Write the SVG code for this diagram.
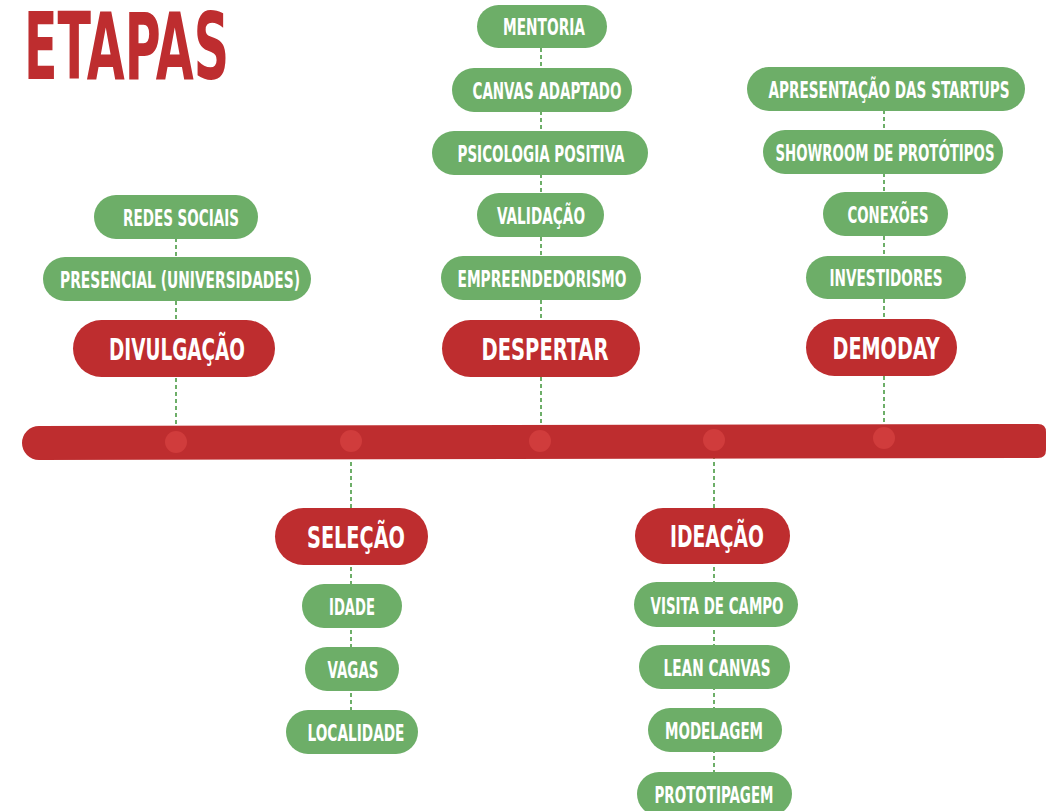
<svg xmlns="http://www.w3.org/2000/svg" width="1046" height="811" viewBox="0 0 1046 811">
<style>
  .g { fill: #6DAE68; }
  .r { fill: #BE2D2F; }
  .t { fill: #FFFFFF; font-family: "DejaVu Sans Condensed", "DejaVu Sans", sans-serif; font-weight: bold; font-stretch: condensed; text-anchor: middle; }
  .tg { font-size: 23px; }
  .tr { font-size: 31px; }
  .c { stroke: #6DAE68; stroke-width: 2; stroke-dasharray: 4 3; fill: none; }
  .dot { fill: #D03C3C; }
</style>
<rect width="1046" height="811" fill="#FFFFFF"/>
<text transform="translate(24,79) scale(0.6,1)" x="0" y="0" textLength="341.7" lengthAdjust="spacingAndGlyphs" style="fill:#BE2D2F;font-family:'DejaVu Sans Condensed','DejaVu Sans',sans-serif;font-weight:bold;font-stretch:condensed;font-size:93px">ETAPAS</text>

<g id="connectors">
  <line class="c" x1="176" y1="217" x2="176" y2="430"/>
  <line class="c" x1="541" y1="27" x2="541" y2="430"/>
  <line class="c" x1="884" y1="89" x2="884" y2="428"/>
  <line class="c" x1="351" y1="455" x2="351" y2="732"/>
  <line class="c" x1="714" y1="455" x2="714" y2="800"/>
</g>

<g id="timeline">
  <path class="r" d="M39,426 L1038,424 Q1046,424 1046,432 L1046,450 Q1046,458 1038,458 L39,460 A17,17 0 0 1 39,426 Z"/>
  <circle class="dot" cx="176" cy="442" r="11"/>
  <circle class="dot" cx="351" cy="441" r="11"/>
  <circle class="dot" cx="540" cy="441" r="11"/>
  <circle class="dot" cx="714" cy="440" r="11"/>
  <circle class="dot" cx="884" cy="438" r="11"/>
</g>

<!-- DIVULGAÇÃO -->
<g id="redes-sociais"><rect class="g" x="94" y="195" width="164" height="44" rx="22"/><text class="t tg" transform="translate(181,226) scale(0.75,1)" textLength="154.7" lengthAdjust="spacingAndGlyphs">REDES SOCIAIS</text></g>
<g id="presencial"><rect class="g" x="43" y="257" width="268" height="44" rx="22"/><text class="t tg" transform="translate(180,288) scale(0.75,1)" textLength="320" lengthAdjust="spacingAndGlyphs">PRESENCIAL (UNIVERSIDADES)</text></g>
<g id="divulgacao"><rect class="r" x="73" y="320" width="202" height="57" rx="28.5"/><text class="t tr" transform="translate(177,360) scale(0.75,1)" textLength="181.3" lengthAdjust="spacingAndGlyphs">DIVULGAÇÃO</text></g>

<!-- DESPERTAR -->
<g id="mentoria"><rect class="g" x="477" y="5" width="130" height="43" rx="21.5"/><text class="t tg" transform="translate(544,35) scale(0.75,1)" textLength="109.3" lengthAdjust="spacingAndGlyphs">MENTORIA</text></g>
<g id="canvas-adaptado"><rect class="g" x="452" y="68" width="180" height="44" rx="22"/><text class="t tg" transform="translate(547,99) scale(0.75,1)" textLength="198.7" lengthAdjust="spacingAndGlyphs">CANVAS ADAPTADO</text></g>
<g id="psicologia-positiva"><rect class="g" x="432" y="131" width="216" height="44" rx="22"/><text class="t tg" transform="translate(541,162) scale(0.75,1)" textLength="222.7" lengthAdjust="spacingAndGlyphs">PSICOLOGIA POSITIVA</text></g>
<g id="validacao"><rect class="g" x="477" y="193" width="127" height="44" rx="22"/><text class="t tg" transform="translate(541,224) scale(0.75,1)" textLength="117.3" lengthAdjust="spacingAndGlyphs">VALIDAÇÃO</text></g>
<g id="empreendedorismo"><rect class="g" x="441" y="256" width="200" height="44" rx="22"/><text class="t tg" transform="translate(542,287) scale(0.75,1)" textLength="225.3" lengthAdjust="spacingAndGlyphs">EMPREENDEDORISMO</text></g>
<g id="despertar"><rect class="r" x="442" y="320" width="198" height="57" rx="28.5"/><text class="t tr" transform="translate(545,360) scale(0.75,1)" textLength="169.3" lengthAdjust="spacingAndGlyphs">DESPERTAR</text></g>

<!-- DEMODAY -->
<g id="apresentacao"><rect class="g" x="747" y="67" width="278" height="44" rx="22"/><text class="t tg" transform="translate(889,98) scale(0.75,1)" textLength="321.3" lengthAdjust="spacingAndGlyphs">APRESENTAÇÃO DAS STARTUPS</text></g>
<g id="showroom"><rect class="g" x="763" y="130" width="240" height="44" rx="22"/><text class="t tg" transform="translate(885,161) scale(0.75,1)" textLength="292" lengthAdjust="spacingAndGlyphs">SHOWROOM DE PROTÓTIPOS</text></g>
<g id="conexoes"><rect class="g" x="823" y="192" width="125" height="44" rx="22"/><text class="t tg" transform="translate(888,223) scale(0.75,1)" textLength="108" lengthAdjust="spacingAndGlyphs">CONEXÕES</text></g>
<g id="investidores"><rect class="g" x="806" y="256" width="160" height="43" rx="21.5"/><text class="t tg" transform="translate(886,286) scale(0.75,1)" textLength="150.7" lengthAdjust="spacingAndGlyphs">INVESTIDORES</text></g>
<g id="demoday"><rect class="r" x="806" y="319" width="151" height="57" rx="28.5"/><text class="t tr" transform="translate(886,359) scale(0.75,1)" textLength="142.7" lengthAdjust="spacingAndGlyphs">DEMODAY</text></g>

<!-- SELEÇÃO -->
<g id="selecao"><rect class="r" x="275" y="508" width="153" height="57" rx="28.5"/><text class="t tr" transform="translate(356,548) scale(0.75,1)" textLength="130.7" lengthAdjust="spacingAndGlyphs">SELEÇÃO</text></g>
<g id="idade"><rect class="g" x="302" y="584" width="100" height="44" rx="22"/><text class="t tg" transform="translate(352,615) scale(0.75,1)" textLength="61.3" lengthAdjust="spacingAndGlyphs">IDADE</text></g>
<g id="vagas"><rect class="g" x="305" y="647" width="94" height="44" rx="22"/><text class="t tg" transform="translate(353,678) scale(0.75,1)" textLength="68" lengthAdjust="spacingAndGlyphs">VAGAS</text></g>
<g id="localidade"><rect class="g" x="286" y="710" width="132" height="44" rx="22"/><text class="t tg" transform="translate(356,741) scale(0.75,1)" textLength="129.3" lengthAdjust="spacingAndGlyphs">LOCALIDADE</text></g>

<!-- IDEAÇÃO -->
<g id="ideacao"><rect class="r" x="635" y="508" width="155" height="56" rx="28"/><text class="t tr" transform="translate(717,547) scale(0.75,1)" textLength="125.3" lengthAdjust="spacingAndGlyphs">IDEAÇÃO</text></g>
<g id="visita-de-campo"><rect class="g" x="634" y="582" width="164" height="45" rx="22.5"/><text class="t tg" transform="translate(717,614) scale(0.75,1)" textLength="177.3" lengthAdjust="spacingAndGlyphs">VISITA DE CAMPO</text></g>
<g id="lean-canvas"><rect class="g" x="639" y="645" width="151" height="44" rx="22"/><text class="t tg" transform="translate(717,676) scale(0.75,1)" textLength="142.7" lengthAdjust="spacingAndGlyphs">LEAN CANVAS</text></g>
<g id="modelagem"><rect class="g" x="648" y="708" width="134" height="44" rx="22"/><text class="t tg" transform="translate(714,739) scale(0.75,1)" textLength="130.7" lengthAdjust="spacingAndGlyphs">MODELAGEM</text></g>
<g id="prototipagem"><rect class="g" x="637" y="772" width="155" height="44" rx="22"/><text class="t tg" transform="translate(714,803) scale(0.75,1)" textLength="158.7" lengthAdjust="spacingAndGlyphs">PROTOTIPAGEM</text></g>
</svg>
